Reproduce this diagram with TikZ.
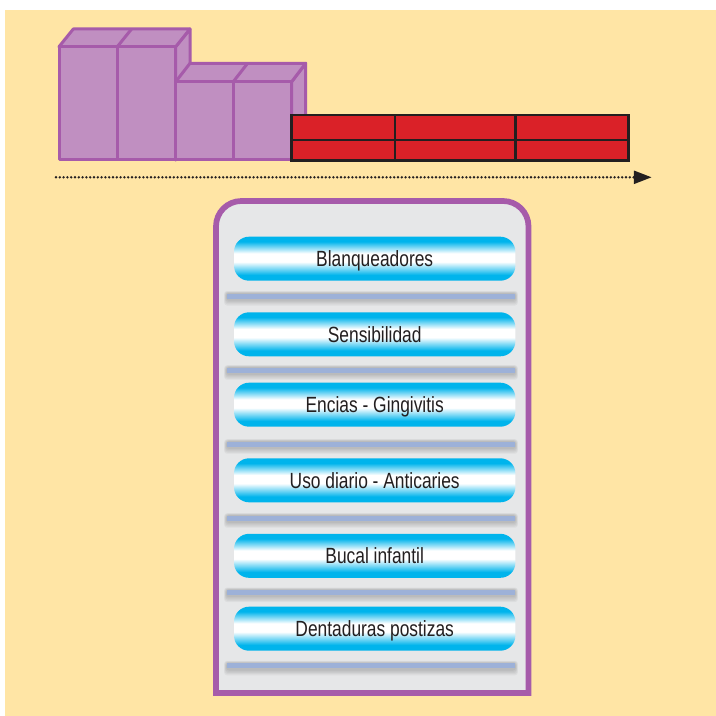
\documentclass[tikz,border=0pt]{standalone}
\usepackage{fontspec}
\newfontfamily\pillfont[FakeStretch=0.79]{Liberation Sans}
\usetikzlibrary{arrows.meta}

\definecolor{paper}{RGB}{255,229,165}
\definecolor{boxfill}{RGB}{192,143,193}
\definecolor{boxline}{RGB}{166,91,170}
\definecolor{brick}{RGB}{218,33,40}
\definecolor{ink}{RGB}{35,31,32}
\definecolor{panel}{RGB}{230,231,232}
\definecolor{pillcyan}{RGB}{0,180,236}
\definecolor{barblue}{RGB}{157,177,216}

% cyan at the rims, white band through the middle
\pgfdeclareverticalshading{pillshade}{100bp}{color(0bp)=(pillcyan); color(31.5bp)=(pillcyan); color(46.5bp)=(white); color(56bp)=(white); color(69.5bp)=(pillcyan); color(100bp)=(pillcyan)}

\tikzset{
  face/.style={fill=boxfill, draw=boxline, line width=2.25pt, line join=round},
  brickrow/.style={fill=brick, draw=ink, line width=2.2pt},
  timeline/.style={draw=ink, line width=2pt, line cap=round, dash pattern=on 0pt off 2.85pt,
    -{Triangle[length=13.3pt,width=9.6pt,sep=0pt]}},
  pill/.style={shade, shading=pillshade, rounded corners=11.25pt, minimum width=211pt,
    minimum height=33pt, inner sep=0pt, text=ink, text height=11.8pt, text depth=0pt,
    font=\pillfont\fontsize{16.5}{19}\selectfont},
  panelbox/.style={fill=panel, draw=boxline, line width=4.3pt},
  bar/.style={fill=barblue, draw=none},
  barhaze/.style={fill=black, fill opacity=0.04, draw=none, rounded corners=2pt},
}

\begin{document}
\begin{tikzpicture}[x=0.75pt, y=-0.75pt]
  \useasboundingbox (0,0) rectangle (716,716);
  \fill[white] (0,0) rectangle (716,716);
  \fill[paper] (5,10) rectangle (716,716);

  % tall block: side, top, front
  \draw[face] (175.7,46.7) -- (190,29) -- (190,142.3) -- (175.7,160) -- cycle;
  \draw[face] (59,46.7) -- (73.3,29) -- (190,29) -- (175.7,46.7) -- cycle;
  \draw[face] (117.3,46.7) -- (131.6,29);
  \draw[face] (59,46.7) rectangle (175.7,160);
  \draw[face] (117.3,46.7) -- (117.3,160);

  % low block: side, top, front
  \draw[face] (291.7,81.7) -- (305.7,63.3) -- (305.7,141.7) -- (291.7,160) -- cycle;
  \draw[face] (175.7,81.7) -- (190,63.3) -- (305.7,63.3) -- (291.7,81.7) -- cycle;
  \draw[face] (233.3,81.7) -- (247.6,63.3);
  \draw[face] (175.7,81.7) rectangle (291.7,160);
  \draw[face] (233.3,81.7) -- (233.3,160);

  % red bricks
  \draw[brickrow] (291.7,115) rectangle (628.3,160.7);
  \draw[brickrow] (291.7,140) -- (628.3,140);
  \draw[brickrow] (395,115) -- (395,160.7);
  \draw[brickrow] (515.7,115) -- (515.7,160.7);

  % dotted time axis
  \coordinate (t0) at (56,177.3);
  \coordinate (t1) at (651.7,177.3);
  \draw[timeline] (t0) -- (t1);

  % panel, rounded at the top only
  \draw[panelbox] (216,693) [rounded corners=19pt] -- (216,201) -- (528.5,201)
    [sharp corners] -- (528.5,693) -- cycle;

  % separator bars with soft haze
  \foreach \c in {296,370.2,444.2,518.2,592.5,665.8}{
    \foreach \k in {1,...,5}{
      \fill[barhaze] (226.7-0.5*\k,\c-2.5-0.5*\k) rectangle (515.3+0.5*\k,\c+3.5+1.2*\k);
    }
    \fill[bar] (226.7,\c-2.5) rectangle (515.3,\c+2.5);
  }

  % product lines
  \node[pill] (p1) at (374.7,258.7) {Blanqueadores};
  \node[pill] (p2) at (374.7,334.3) {Sensibilidad};
  \node[pill] (p3) at (374.7,404.7) {Encias - Gingivitis};
  \node[pill] (p4) at (374.7,480.3) {Uso diario - Anticaries};
  \node[pill] (p5) at (374.7,555.8) {Bucal infantil};
  \node[pill] (p6) at (374.7,628.7) {Dentaduras postizas};
\end{tikzpicture}
\end{document}
